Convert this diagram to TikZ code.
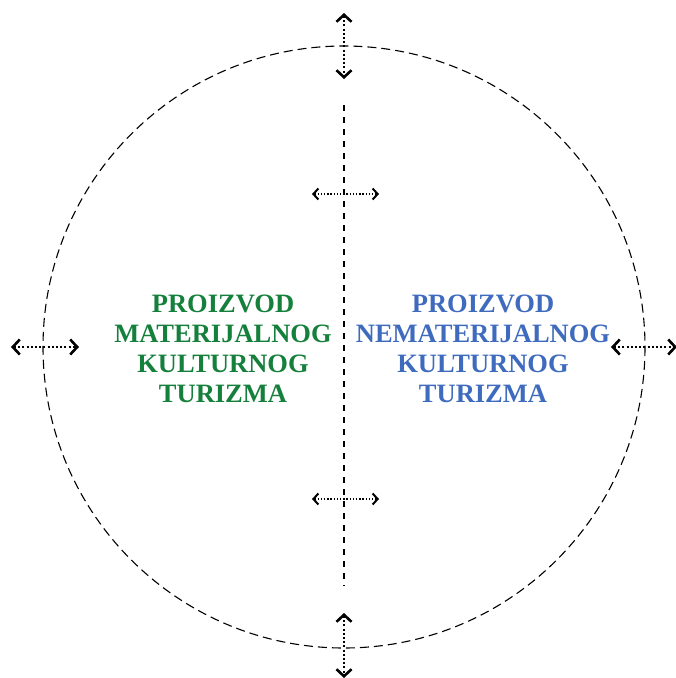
\documentclass[tikz,border=0pt]{standalone}
\usepackage{fontspec}
\setmainfont{Liberation Serif}
\usetikzlibrary{arrows.meta}
\definecolor{tgreen}{HTML}{15803C}
\definecolor{tblue}{HTML}{3F6BBE}
\tikzset{
  dblarrow/.style={line width=2.2pt, dash pattern=on 2pt off 2.2pt, {Straight Barb[length=7pt,width=15pt,line width=2.6pt]}-{Straight Barb[length=7pt,width=15pt,line width=2.6pt]}},
  smallarrow/.style={line width=1.5pt, dash pattern=on 1.5pt off 1.7pt, {Straight Barb[length=5pt,width=11pt,line width=2pt]}-{Straight Barb[length=5pt,width=11pt,line width=2pt]}},
  lbl/.style={font=\bfseries\fontsize{26.5}{30}\selectfont, align=center, inner sep=0pt}
}
\begin{document}
\begin{tikzpicture}[x=1pt,y=-1pt]
\useasboundingbox (0,0) rectangle (676,678);
\coordinate (c) at (344,347);
\draw[line width=1.1pt, dash pattern=on 9pt off 5pt] (c) circle[radius=301];
\coordinate (vt) at (344,105);
\coordinate (vb) at (344,586);
\draw[line width=1.1pt, dash pattern=on 6pt off 6pt] (vt) -- (vb);
% arrows
\coordinate (t1) at (344,13); \coordinate (t2) at (344,79);
\coordinate (b1) at (344,613); \coordinate (b2) at (344,678);
\coordinate (l1) at (11,347); \coordinate (l2) at (79,347);
\coordinate (r1) at (611,347); \coordinate (r2) at (677,347);
\coordinate (u1) at (312,194); \coordinate (u2) at (379,194);
\coordinate (d1) at (312,499); \coordinate (d2) at (379,499);
\draw[dblarrow] (t1) -- (t2);
\draw[dblarrow] (b1) -- (b2);
\draw[dblarrow] (l1) -- (l2);
\draw[dblarrow] (r1) -- (r2);
\draw[smallarrow] (u1) -- (u2);
\draw[smallarrow] (d1) -- (d2);
\node[lbl, text=tgreen] (mat) at (223,349) {PROIZVOD\\MATERIJALNOG\\KULTURNOG\\TURIZMA};
\node[lbl, text=tblue] (nemat) at (483,349) {PROIZVOD\\NEMATERIJALNOG\\KULTURNOG\\TURIZMA};
\end{tikzpicture}
\end{document}
